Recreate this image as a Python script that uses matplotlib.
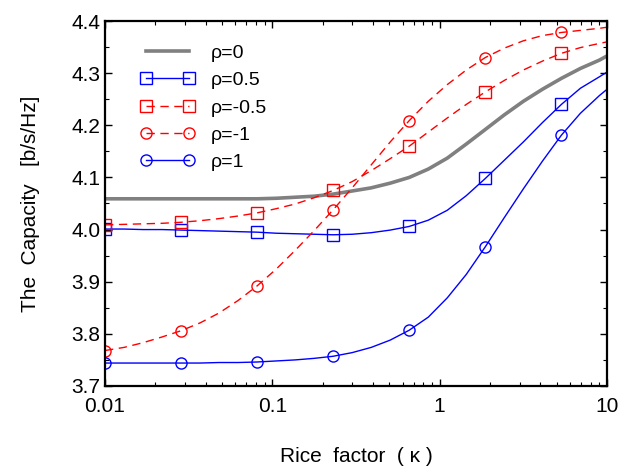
import numpy as np
import matplotlib
matplotlib.use("Agg")
import matplotlib.pyplot as plt
from matplotlib.ticker import MultipleLocator, LogLocator, NullFormatter, FixedLocator, FixedFormatter

plt.rcParams['font.family'] = ['Liberation Sans', 'DejaVu Sans']

kappa = [0.01, 0.01299, 0.01687, 0.02191, 0.02848, 0.03698, 0.04805, 0.06242,
         0.0811, 0.1053, 0.1368, 0.1778, 0.2310, 0.3000, 0.3897, 0.5063,
         0.6579, 0.8547, 1.110, 1.442, 1.874, 2.434, 3.162, 4.108,
         5.337, 6.933, 9.007, 10.0]

rho_0 = [4.059, 4.059, 4.059, 4.059, 4.059, 4.059, 4.059, 4.059,
         4.059, 4.060, 4.062, 4.064, 4.068, 4.074, 4.080, 4.089,
         4.100, 4.116, 4.137, 4.164, 4.192, 4.220, 4.246, 4.269,
         4.290, 4.309, 4.325, 4.333]
rho_p05 = [4.001, 4.001, 4.000, 4.000, 3.999, 3.998, 3.997, 3.996,
           3.995, 3.993, 3.992, 3.991, 3.990, 3.991, 3.994, 3.999,
           4.006, 4.018, 4.037, 4.065, 4.098, 4.133, 4.168, 4.205,
           4.240, 4.271, 4.293, 4.302]
rho_m05 = [4.009, 4.010, 4.011, 4.012, 4.014, 4.017, 4.021, 4.026,
           4.032, 4.040, 4.049, 4.061, 4.075, 4.092, 4.113, 4.136,
           4.160, 4.187, 4.214, 4.240, 4.264, 4.286, 4.306, 4.323,
           4.338, 4.349, 4.357, 4.360]
rho_m1 = [3.768, 3.774, 3.783, 3.794, 3.806, 3.821, 3.840, 3.864,
          3.892, 3.924, 3.960, 3.998, 4.038, 4.080, 4.124, 4.168,
          4.209, 4.246, 4.278, 4.306, 4.330, 4.348, 4.362, 4.372,
          4.378, 4.382, 4.386, 4.388]
rho_p1 = [3.744, 3.744, 3.744, 3.744, 3.744, 3.744, 3.745, 3.745,
          3.746, 3.748, 3.750, 3.753, 3.757, 3.764, 3.774, 3.788,
          3.807, 3.832, 3.869, 3.914, 3.967, 4.023, 4.078, 4.131,
          4.181, 4.223, 4.257, 4.269]

labels = ['ρ=0', 'ρ=0.5', 'ρ=-0.5', 'ρ=-1', 'ρ=1']
marker_idx = list(range(0, 25, 4))

fig = plt.figure(figsize=(6.3, 4.71), dpi=100)
ax = fig.add_axes([0.1667, 0.1805, 0.7968, 0.7749])

ax.plot(kappa, rho_0, color='#808080', lw=2.6, label=labels[0])
ax.plot(kappa, rho_p05, color='#0000ff', lw=1.0, marker='s', ms=8.5, mfc='none',
        mec='#0000ff', mew=1.0, markevery=marker_idx, label=labels[1])
ax.plot(kappa, rho_m05, color='#ff0000', lw=1.0, ls=(0, (6, 4)), marker='s', ms=8.5,
        mfc='none', mec='#ff0000', mew=1.0, markevery=marker_idx, label=labels[2])
ax.plot(kappa, rho_m1, color='#ff0000', lw=1.0, ls=(0, (6, 4)), marker='o', ms=8,
        mfc='none', mec='#ff0000', mew=1.0, markevery=marker_idx, label=labels[3])
ax.plot(kappa, rho_p1, color='#0000ff', lw=1.0, marker='o', ms=8, mfc='none',
        mec='#0000ff', mew=1.0, markevery=marker_idx, label=labels[4])

ax.set_xscale('log')
ax.set_xlim(0.01, 10)
ax.set_ylim(3.7, 4.4)
ax.xaxis.set_major_locator(FixedLocator([0.01, 0.1, 1, 10]))
ax.xaxis.set_major_formatter(FixedFormatter(['0.01', '0.1', '1', '10']))
ax.xaxis.set_minor_locator(LogLocator(base=10, subs=np.arange(2, 10), numticks=20))
ax.xaxis.set_minor_formatter(NullFormatter())
ax.yaxis.set_major_locator(MultipleLocator(0.1))
ax.yaxis.set_minor_locator(MultipleLocator(0.05))
ax.yaxis.set_major_formatter(plt.FuncFormatter(lambda v, p: f'{v:.1f}'))

ax.tick_params(which='both', direction='in', top=True, right=True, labelsize=15)
ax.tick_params(which='major', length=5, width=1)
ax.tick_params(which='minor', length=3, width=0.8)
ax.tick_params(axis='x', pad=8)
for s in ax.spines.values():
    s.set_linewidth(1.6)

ax.set_xlabel('Rice  factor  ( κ )', fontsize=15, labelpad=22)
ax.set_ylabel('The  Capacity   [b/s/Hz]', fontsize=15, labelpad=22)

leg = ax.legend(loc='upper left', bbox_to_anchor=(0.036, 0.984), frameon=False,
                numpoints=2, handlelength=2.8, fontsize=14, labelspacing=0.5,
                handletextpad=0.8)

fig.savefig('out.png', dpi=100)
